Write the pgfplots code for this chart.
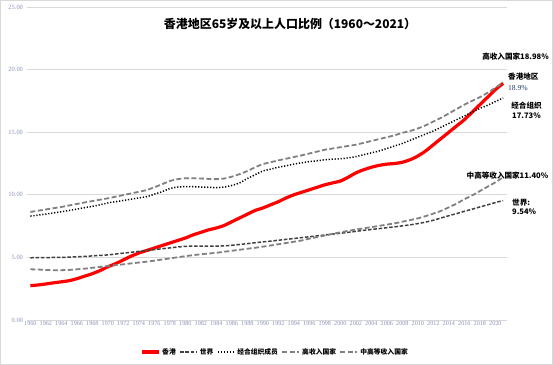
\documentclass[border=0pt]{standalone}
\usepackage{fontspec}
\setmainfont{Liberation Serif}
\newfontfamily\cjk{Noto Sans CJK SC}
\usepackage{pgfplots}
\pgfplotsset{compat=1.18}
\definecolor{gridgray}{RGB}{217,217,217}
\definecolor{ticklab}{RGB}{135,145,185}
\definecolor{hkred}{RGB}{255,0,0}
\definecolor{worldgray}{RGB}{64,64,64}
\definecolor{midgray}{RGB}{128,128,128}
\definecolor{valblue}{RGB}{31,56,100}
\begin{document}
\begin{tikzpicture}
\useasboundingbox (-26.5bp,-45bp) rectangle (526.5bp,320bp);
\draw[gridgray,line width=0.8bp] (-26.1bp,-44.6bp) rectangle (526.1bp,319.6bp);
\begin{axis}[
  at={(0,0)}, anchor=south west,
  scale only axis, width=480.5bp, height=313bp,
  xmin=1959.5, xmax=2021.5, ymin=0, ymax=25,
  xtick={1960,1962,...,2020}, ytick={0,5,...,25},
  x tick label style={/pgf/number format/1000 sep={}, font=\fontsize{6.2}{7}\selectfont, text=ticklab, yshift=2bp},
  y tick label style={/pgf/number format/.cd, fixed, fixed zerofill, precision=2, /tikz/.cd, font=\fontsize{6.5}{7}\selectfont, text=ticklab},
  /pgf/number format/assume math mode=true,
  axis line style={draw=none}, major tick length=0pt,
  ymajorgrids, grid style={gridgray, line width=0.8bp},
  clip=false,
  legend columns=5,
  legend style={at={(0.517,-0.102)}, anchor=center, draw=none, fill=none,
    font=\cjk\fontsize{6.8}{8}\selectfont\bfseries,
    /tikz/every even column/.append style={column sep=1.5bp}},
  legend image code/.code={\draw[#1] (0bp,0bp) -- (17bp,0bp);},
]
\addplot[hkred, line width=3.2bp, smooth, tension=0.4] table {
x y
1960 2.74
1961 2.80
1962 2.88
1963 2.97
1964 3.05
1965 3.14
1966 3.30
1967 3.50
1968 3.70
1969 3.95
1970 4.25
1971 4.50
1972 4.80
1973 5.10
1974 5.35
1975 5.55
1976 5.75
1977 5.95
1978 6.15
1979 6.35
1980 6.55
1981 6.80
1982 7.00
1983 7.20
1984 7.35
1985 7.55
1986 7.85
1987 8.15
1988 8.45
1989 8.75
1990 8.95
1991 9.20
1992 9.45
1993 9.75
1994 10.00
1995 10.20
1996 10.40
1997 10.60
1998 10.80
1999 10.95
2000 11.10
2001 11.40
2002 11.75
2003 12.00
2004 12.20
2005 12.35
2006 12.45
2007 12.50
2008 12.60
2009 12.80
2010 13.10
2011 13.50
2012 14.00
2013 14.50
2014 15.00
2015 15.50
2016 16.00
2017 16.60
2018 17.20
2019 17.80
2020 18.40
2021 18.90
};
\addlegendentry{香港}
\addplot[worldgray, line width=1.5bp, dash pattern=on 3.5bp off 1.8bp, smooth, tension=0.4] table {
x y
1960 4.97
1961 4.98
1962 4.98
1963 5.00
1964 5.00
1965 5.02
1966 5.05
1967 5.08
1968 5.12
1969 5.16
1970 5.20
1971 5.27
1972 5.34
1973 5.41
1974 5.48
1975 5.55
1976 5.62
1977 5.69
1978 5.76
1979 5.83
1980 5.88
1981 5.90
1982 5.90
1983 5.90
1984 5.90
1985 5.92
1986 5.97
1987 6.03
1988 6.10
1989 6.17
1990 6.24
1991 6.30
1992 6.37
1993 6.44
1994 6.51
1995 6.58
1996 6.65
1997 6.72
1998 6.79
1999 6.86
2000 6.93
2001 7.00
2002 7.08
2003 7.16
2004 7.23
2005 7.30
2006 7.37
2007 7.44
2008 7.52
2009 7.60
2010 7.70
2011 7.82
2012 7.97
2013 8.15
2014 8.33
2015 8.50
2016 8.68
2017 8.85
2018 9.03
2019 9.20
2020 9.38
2021 9.54
};
\addlegendentry{世界}
\addplot[black, line width=1.5bp, dash pattern=on 1.2bp off 1.8bp, smooth, tension=0.4] table {
x y
1960 8.30
1961 8.38
1962 8.46
1963 8.55
1964 8.65
1965 8.75
1966 8.86
1967 8.97
1968 9.08
1969 9.20
1970 9.35
1971 9.45
1972 9.55
1973 9.65
1974 9.75
1975 9.85
1976 10.05
1977 10.25
1978 10.50
1979 10.62
1980 10.65
1981 10.65
1982 10.62
1983 10.60
1984 10.57
1985 10.62
1986 10.75
1987 10.95
1988 11.30
1989 11.60
1990 11.90
1991 12.05
1992 12.20
1993 12.32
1994 12.45
1995 12.55
1996 12.65
1997 12.72
1998 12.80
1999 12.85
2000 12.88
2001 12.95
2002 13.05
2003 13.20
2004 13.35
2005 13.50
2006 13.70
2007 13.90
2008 14.10
2009 14.35
2010 14.60
2011 14.85
2012 15.10
2013 15.40
2014 15.70
2015 16.00
2016 16.30
2017 16.60
2018 16.90
2019 17.15
2020 17.45
2021 17.73
};
\addlegendentry{经合组织成员}
\addplot[midgray, line width=1.8bp, dash pattern=on 5bp off 2.5bp, smooth, tension=0.4] table {
x y
1960 8.63
1961 8.73
1962 8.83
1963 8.93
1964 9.03
1965 9.15
1966 9.27
1967 9.39
1968 9.50
1969 9.61
1970 9.72
1971 9.85
1972 9.98
1973 10.11
1974 10.24
1975 10.38
1976 10.60
1977 10.85
1978 11.10
1979 11.25
1980 11.32
1981 11.32
1982 11.30
1983 11.27
1984 11.25
1985 11.30
1986 11.45
1987 11.65
1988 11.90
1989 12.20
1990 12.45
1991 12.60
1992 12.75
1993 12.88
1994 13.02
1995 13.15
1996 13.30
1997 13.45
1998 13.60
1999 13.70
2000 13.80
2001 13.90
2002 14.00
2003 14.15
2004 14.30
2005 14.45
2006 14.60
2007 14.75
2008 14.95
2009 15.10
2010 15.30
2011 15.55
2012 15.85
2013 16.15
2014 16.50
2015 16.85
2016 17.20
2017 17.50
2018 17.80
2019 18.15
2020 18.55
2021 18.98
};
\addlegendentry{高收入国家}
\addplot[midgray, line width=1.8bp, dash pattern=on 5bp off 2.5bp, smooth, tension=0.4] table {
x y
1960 4.05
1961 4.03
1962 4.00
1963 3.98
1964 3.98
1965 4.00
1966 4.05
1967 4.10
1968 4.17
1969 4.24
1970 4.31
1971 4.38
1972 4.45
1973 4.52
1974 4.59
1975 4.66
1976 4.74
1977 4.83
1978 4.92
1979 5.01
1980 5.10
1981 5.18
1982 5.25
1983 5.31
1984 5.37
1985 5.45
1986 5.53
1987 5.61
1988 5.69
1989 5.77
1990 5.86
1991 5.95
1992 6.05
1993 6.15
1994 6.25
1995 6.35
1996 6.50
1997 6.62
1998 6.75
1999 6.88
2000 7.00
2001 7.12
2002 7.22
2003 7.32
2004 7.42
2005 7.52
2006 7.62
2007 7.72
2008 7.85
2009 7.98
2010 8.12
2011 8.30
2012 8.50
2013 8.72
2014 9.00
2015 9.30
2016 9.65
2017 9.95
2018 10.30
2019 10.65
2020 11.00
2021 11.40
};
\addlegendentry{中高等收入国家}
\end{axis}
% title
\node[font=\cjk\fontsize{12}{14}\selectfont\bfseries] at (263.5bp,296bp) {香港地区65岁及以上人口比例（1960～2021）};
% end labels
\node[font=\cjk\fontsize{7.6}{9}\selectfont\bfseries] at (489bp,263bp) {高收入国家18.98\%};
\node[font=\cjk\fontsize{7.6}{9}\selectfont\bfseries, anchor=west, inner sep=0pt] at (481.5bp,243bp) {香港地区};
\node[font=\fontsize{7.6}{9}\selectfont, text=valblue, anchor=west, inner sep=0pt] at (481.5bp,232bp) {18.9\%};
\node[font=\cjk\fontsize{7.6}{9}\selectfont\bfseries] at (500bp,214bp) {经合组织};
\node[font=\cjk\fontsize{7.6}{9}\selectfont\bfseries] at (500bp,204bp) {17.73\%};
\node[font=\cjk\fontsize{7.6}{9}\selectfont\bfseries] at (481bp,144bp) {中高等收入国家11.40\%};
\node[font=\cjk\fontsize{7.6}{9}\selectfont\bfseries, anchor=west, inner sep=0pt] at (485.5bp,117bp) {世界:};
\node[font=\cjk\fontsize{7.6}{9}\selectfont\bfseries, anchor=west, inner sep=0pt] at (485.5bp,108bp) {9.54\%};
\end{tikzpicture}
\end{document}
